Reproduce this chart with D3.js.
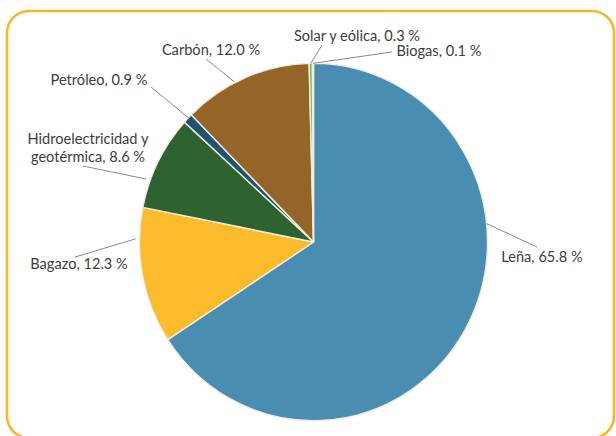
<!DOCTYPE html>
<html>
<head>
<meta charset="utf-8">
<script src="https://cdn.jsdelivr.net/npm/d3@7"></script>
<style>
  html, body { margin: 0; padding: 0; background: #fff; }
  svg { display: block; }
  .lbl { font-family: Lato, "Open Sans", sans-serif; font-size: 14.6px; fill: #3d3d3d; }
</style>
</head>
<body>
<svg id="chart" width="616" height="436"></svg>
<script>
// Energy sources, share of total (%), clockwise from 12 o'clock
const categories = ["Leña", "Bagazo", "Hidroelectricidad y geotérmica", "Petróleo", "Carbón", "Solar y eólica", "Biogas"];
const shares = [65.8, 12.3, 8.6, 0.9, 12.0, 0.3, 0.1];
const labelLines = [
  ["Leña, 65.8 %"],
  ["Bagazo, 12.3 %"],
  ["Hidroelectricidad y", "geotérmica, 8.6 %"],
  ["Petróleo, 0.9 %"],
  ["Carbón, 12.0 %"],
  ["Solar y eólica, 0.3 %"],
  ["Biogas, 0.1 %"]
];
const colors = ["#4a8db3", "#fcbb2b", "#2f6231", "#1f5471", "#946526", "#6cbf4b", "#d8e8c6"];

// Label placement: text centre/baseline, leader start (fraction through slice, radial offset), leader end
const labelLayout = [
  { x: 542, y: 262, t: 0.355, off: 0, ex: 537, ey: 247 },
  { x: 79, y: 269, t: 0.77, off: 4, ex: 75, ey: 257 },
  { x: 88, y: 144, t: 0.29, off: 4, ex: 83, ey: 166 },
  { x: 99, y: 85, t: 0.6, off: 0, ex: 151, ey: 87 },
  { x: 211, y: 55, t: 0.41, off: 1, ex: 206, ey: 59 },
  { x: 357, y: 41, t: 0.5, off: 0, ex: 322, ey: 45 },
  { x: 439, y: 56, t: 0.5, off: 0, ex: 392, ey: 52 }
];

const svg = d3.select("#chart");

// Rounded frame
svg.append("rect")
  .attr("x", 7).attr("y", 11)
  .attr("width", 607).attr("height", 427)
  .attr("rx", 22).attr("ry", 22)
  .attr("fill", "none")
  .attr("stroke", "#fbb722")
  .attr("stroke-width", 2.6);

const cx = 313.5, cy = 242, R = 174, sy = 1.027;

const pie = d3.pie().sort(null).value(d => d)(shares);
const arc = d3.arc().innerRadius(0).outerRadius(R);

const g = svg.append("g").attr("transform", `translate(${cx},${cy}) scale(1,${sy})`);

g.selectAll("path.slice")
  .data(pie)
  .join("path")
  .attr("class", "slice")
  .attr("d", arc)
  .attr("fill", (d, i) => colors[i])
  .attr("stroke", "#f1ece0")
  .attr("stroke-width", 1.4)
  .attr("stroke-linejoin", "round");

// Leader lines and labels
const leaders = svg.append("g");
const labels = svg.append("g");

pie.forEach((d, i) => {
  const L = labelLayout[i];
  const a = d.startAngle + (d.endAngle - d.startAngle) * L.t;
  const r = R + L.off;
  const sx = cx + r * Math.sin(a);
  const syy = cy - r * Math.cos(a) * sy;
  leaders.append("line")
    .attr("x1", sx).attr("y1", syy)
    .attr("x2", L.ex).attr("y2", L.ey)
    .attr("stroke", "#8a8a8a")
    .attr("stroke-width", 1);

  const t = labels.append("text")
    .attr("class", "lbl")
    .attr("text-anchor", "middle")
    .attr("x", L.x).attr("y", L.y);
  labelLines[i].forEach((s, k) => {
    t.append("tspan").attr("x", L.x).attr("dy", k === 0 ? 0 : 17.7).text(s);
  });
});
</script>
</body>
</html>
